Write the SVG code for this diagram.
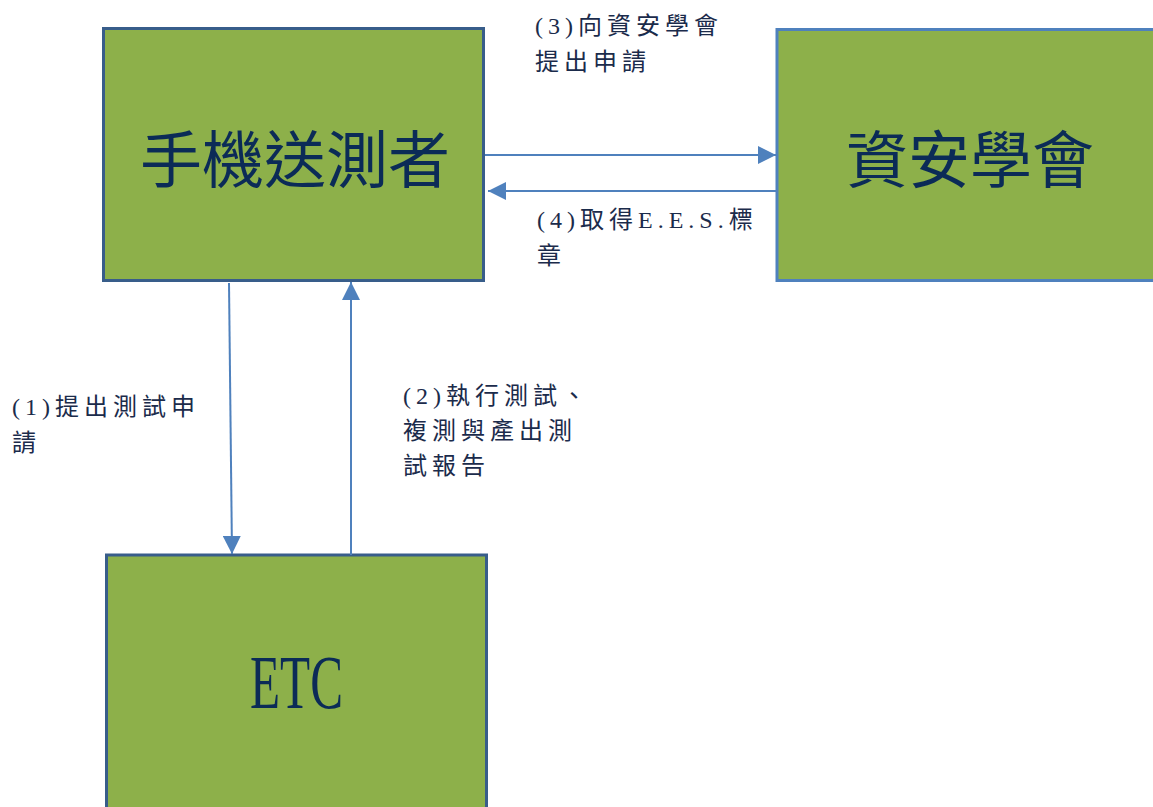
<svg xmlns="http://www.w3.org/2000/svg" width="1153" height="807" viewBox="0 0 1153 807">
<style>
.box{fill:#8DB04A;stroke-width:3}
.dk{stroke:#385D8A}
.lt{stroke:#4F81BD}
.big{font-family:"Liberation Serif","Noto Sans CJK TC",serif;font-size:62px;fill:#0B2B57;text-anchor:middle}
.lbl{font-family:"Liberation Serif","Noto Sans CJK TC",serif;font-size:24px;fill:#1B2B4B;letter-spacing:5px}
.con line{stroke:#4F81BD;stroke-width:2;fill:none;marker-end:url(#ah)}
</style>
<defs>
<marker id="ah" markerUnits="userSpaceOnUse" markerWidth="18" markerHeight="18" viewBox="0 0 16 16" refX="16" refY="8" orient="auto">
<path d="M0,0 L16,8 L0,16 Z" fill="#4F81BD"/>
</marker>
</defs>
<rect width="1153" height="807" fill="#FFFFFF"/>
<g id="node-tester">
<rect class="box dk" x="103.5" y="28.5" width="380" height="252"/>
<text class="big" x="295" y="183">手機送測者</text>
</g>
<g id="node-association">
<rect class="box lt" x="777" y="29.5" width="400" height="251"/>
<text class="big" x="970" y="183">資安學會</text>
</g>
<g id="node-etc">
<rect class="box dk" x="106.5" y="555" width="380" height="270"/>
<text x="296.5" y="708" font-family="Liberation Serif, serif" font-size="76" fill="#0B2B57" text-anchor="middle" textLength="93" lengthAdjust="spacingAndGlyphs">ETC</text>
</g>
<g id="connectors" class="con">
<line x1="485" y1="155" x2="776" y2="155"/>
<line x1="776" y1="191" x2="488" y2="191"/>
<line x1="229" y1="283" x2="232" y2="554"/>
<line x1="351" y1="555" x2="351" y2="282"/>
</g>
<g id="labels">
<text class="lbl" x="535" y="34">(3)向資安學會</text>
<text class="lbl" x="535" y="70">提出申請</text>
<text class="lbl" x="537" y="228">(4)取得E.E.S.標</text>
<text class="lbl" x="537" y="264">章</text>
<text class="lbl" x="12" y="415">(1)提出測試申</text>
<text class="lbl" x="12" y="451">請</text>
<text class="lbl" x="403" y="404">(2)執行測試、</text>
<text class="lbl" x="403" y="439">複測與產出測</text>
<text class="lbl" x="403" y="474">試報告</text>
</g>
</svg>
